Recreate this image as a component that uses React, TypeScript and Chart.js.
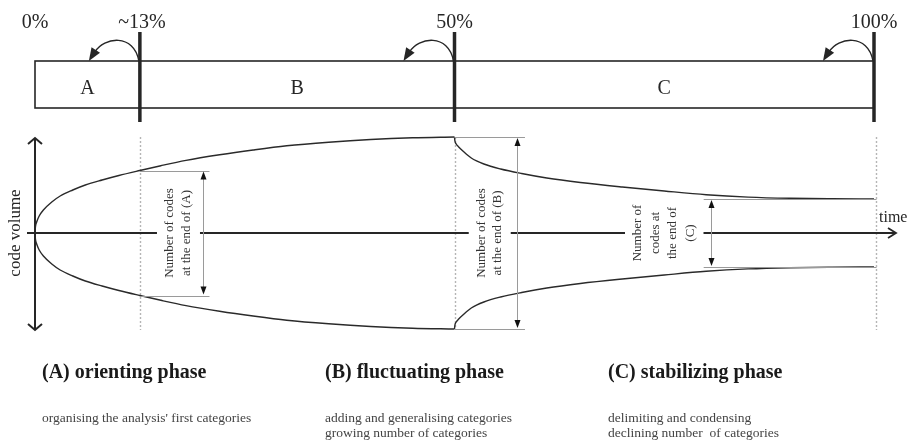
import React, { useEffect, useRef } from 'react';
import { Chart, registerables } from 'chart.js';

Chart.register(...registerables);

// ---------- data ----------
const boundaryPct = [0, 12.5, 50, 100];
const boundaryLabels = ['0%', '~13%', '50%', '100%'];
const segmentLabels = ['A', 'B', 'C'];

// growth of code volume during phases A and B (time in % of analysis)
const growthTime = [0, 0.05, 0.2, 0.5, 1, 2, 3, 4.5, 6, 8, 10, 12.5, 15, 18, 22, 26, 30, 35, 40, 45, 50];
const growthUpper = [0, 6, 11, 17, 23, 31, 37, 43, 48, 53, 57.5, 62.5, 67.3, 72.6, 78.2, 83, 87.2, 90.8, 93.5, 95.2, 96];
const growthLower = [0, -6, -11, -17, -23, -31, -37, -43, -48, -53, -57.5, -62.5, -67.3, -72.6, -78.2, -83, -87.2, -90.8, -93.5, -95.2, -96];

// decline of code volume during phase C
const declineTime = [50, 50.05, 50.2, 50.5, 51, 52, 53.5, 55.5, 58, 61, 65, 70, 75, 80, 85, 90, 95, 100];
const declineUpper = [96, 92, 89, 86, 82, 75, 69, 64, 59.5, 55, 50.5, 46, 42, 38.3, 35.9, 34.7, 34.2, 34];
const declineLower = [-96, -92, -89, -86, -82, -75, -69, -64, -59.5, -55, -50.5, -46, -42, -38.3, -35.9, -34.7, -34.2, -34];

// "number of codes at the end of" measurements
const measureTop = [62.5, 96, 34];
const measureBottom = [-62.5, -96, -34];
const measureLabels = [
  ['Number of codes', 'at the end of (A)'],
  ['Number of codes', 'at the end of (B)'],
  ['Number of', 'codes at', 'the end of', '(C)'],
];

const phaseTitles = ['(A) orienting phase', '(B) fluctuating phase', '(C) stabilizing phase'];
const phaseDescriptions = [
  ["organising the analysis' first categories"],
  ['adding and generalising categories', 'growing number of categories'],
  ['delimiting and condensing', 'declining number  of categories'],
];

const axisLabels = { y: 'code volume', x: 'time' };

// ---------- layout (positions only) ----------
const SERIF = '"Liberation Serif", "Times New Roman", serif';
const INK = '#262626';
const layoutCfg = {
  barTop: 61,
  barBottom: 108,
  dividerTop: 32,
  dividerBottom: 122,
  pctBaseline: 28,
  segBaseline: 94,
  measureLineFrom: [12.5, 50, 79.7],
  measureLineTo: [20.8, 58.4, 100.3],
  measureArrowAt: [20, 57.4, 80.6],
  measureTextAt: [17.1, 54.2, 75.0],
  measureLineHeights: [17, 16, 17.5],
  titleX: [42, 325, 608],
  titleBaseline: 378,
  descBaseline: 422,
  descLineHeight: 15,
};

function arrowHead(ctx: CanvasRenderingContext2D, tx: number, ty: number, dx: number, dy: number, len: number, half: number) {
  const l = Math.hypot(dx, dy);
  const ux = dx / l, uy = dy / l;
  const bx = tx - ux * len, by = ty - uy * len;
  ctx.beginPath();
  ctx.moveTo(tx, ty);
  ctx.lineTo(bx - uy * half, by + ux * half);
  ctx.lineTo(bx + uy * half, by - ux * half);
  ctx.closePath();
  ctx.fill();
}

const diagramPlugin = {
  id: 'diagram',
  beforeDatasetsDraw(chart: any) {
    const { ctx, scales } = chart;
    const x = scales.x, y = scales.y;
    ctx.save();
    ctx.strokeStyle = '#b5b5b5';
    ctx.lineWidth = 1.4;
    ctx.setLineDash([2, 2]);
    for (let i = 1; i < boundaryPct.length; i++) {
      const px = Math.round(x.getPixelForValue(boundaryPct[i])) + (i === 3 ? 2 : 0) + 0.5;
      ctx.beginPath();
      ctx.moveTo(px, y.getPixelForValue(96));
      ctx.lineTo(px, y.getPixelForValue(-97));
      ctx.stroke();
    }
    ctx.restore();
  },
  afterDatasetsDraw(chart: any) {
    const { ctx, scales } = chart;
    const x = scales.x, y = scales.y;
    const L = layoutCfg;
    ctx.save();

    // ---- top bar ----
    const x0 = x.getPixelForValue(boundaryPct[0]);
    const x3 = x.getPixelForValue(boundaryPct[3]);
    ctx.strokeStyle = INK;
    ctx.lineWidth = 1.6;
    ctx.strokeRect(x0, L.barTop, x3 - x0, L.barBottom - L.barTop);

    ctx.fillStyle = INK;
    ctx.font = `20px ${SERIF}`;
    ctx.textAlign = 'center';
    ctx.textBaseline = 'alphabetic';
    for (let i = 0; i < boundaryPct.length; i++) {
      const px = x.getPixelForValue(boundaryPct[i]);
      ctx.fillText(boundaryLabels[i], px + (i === 1 ? 2 : 0), L.pctBaseline);
    }
    for (let i = 0; i < segmentLabels.length; i++) {
      const a = x.getPixelForValue(boundaryPct[i]);
      const b = x.getPixelForValue(boundaryPct[i + 1]);
      ctx.fillText(segmentLabels[i], (a + b) / 2, L.segBaseline);
    }
    // dividers + curved arrows
    for (let i = 1; i < boundaryPct.length; i++) {
      const px = x.getPixelForValue(boundaryPct[i]);
      ctx.lineWidth = 3.5;
      ctx.beginPath();
      ctx.moveTo(px, L.dividerTop);
      ctx.lineTo(px, L.dividerBottom);
      ctx.stroke();

      const ex = px - 51, ey = L.barTop;
      const c2x = px - 36, c2y = 37;
      ctx.lineWidth = 1.4;
      ctx.beginPath();
      ctx.moveTo(px - 1, L.barTop);
      ctx.bezierCurveTo(px - 6, 33, c2x, c2y, ex + 6, ey - 9);
      ctx.stroke();
      arrowHead(ctx, ex, ey, ex - c2x, ey - c2y, 13, 5);
    }

    // ---- code volume axis ----
    const cx = x0;
    const yTop = y.getPixelForValue(95);
    const yBot = y.getPixelForValue(-97);
    ctx.lineWidth = 2;
    ctx.beginPath();
    ctx.moveTo(cx, yTop);
    ctx.lineTo(cx, yBot);
    ctx.moveTo(cx - 7, yTop + 6);
    ctx.lineTo(cx, yTop);
    ctx.lineTo(cx + 7, yTop + 6);
    ctx.moveTo(cx - 7, yBot - 6);
    ctx.lineTo(cx, yBot);
    ctx.lineTo(cx + 7, yBot - 6);
    ctx.stroke();

    ctx.save();
    ctx.translate(16, y.getPixelForValue(0));
    ctx.rotate(-Math.PI / 2);
    ctx.font = `17px ${SERIF}`;
    ctx.textAlign = 'center';
    ctx.textBaseline = 'middle';
    ctx.fillText(axisLabels.y, 0, 0);
    ctx.restore();

    // ---- time axis ----
    const ay = y.getPixelForValue(0);
    const axEnd = x3 + 22;
    ctx.lineWidth = 1.8;
    ctx.beginPath();
    ctx.moveTo(x0 - 8, ay);
    ctx.lineTo(axEnd, ay);
    ctx.moveTo(axEnd - 8, ay - 5);
    ctx.lineTo(axEnd, ay);
    ctx.lineTo(axEnd - 8, ay + 5);
    ctx.stroke();
    ctx.font = `16px ${SERIF}`;
    ctx.textAlign = 'left';
    ctx.textBaseline = 'alphabetic';
    ctx.fillText(axisLabels.x, x3 + 5, ay - 11);

    // ---- measurements ----
    for (let i = 0; i < measureTop.length; i++) {
      const yt = y.getPixelForValue(measureTop[i]);
      const yb = y.getPixelForValue(measureBottom[i]);
      const lx0 = x.getPixelForValue(L.measureLineFrom[i]);
      const lx1 = x.getPixelForValue(L.measureLineTo[i]);
      const ax = Math.round(x.getPixelForValue(L.measureArrowAt[i])) + 0.5;
      ctx.strokeStyle = '#9a9a9a';
      ctx.lineWidth = 1;
      ctx.beginPath();
      ctx.moveTo(lx0, Math.round(yt) + 0.5);
      ctx.lineTo(lx1, Math.round(yt) + 0.5);
      ctx.moveTo(lx0, Math.round(yb) + 0.5);
      ctx.lineTo(lx1, Math.round(yb) + 0.5);
      ctx.moveTo(ax, yt + 6);
      ctx.lineTo(ax, yb - 6);
      ctx.stroke();
      ctx.fillStyle = '#111';
      arrowHead(ctx, ax, yt + 1, 0, -1, 8, 3);
      arrowHead(ctx, ax, yb - 1, 0, 1, 8, 3);

      const lines = measureLabels[i];
      const lh = L.measureLineHeights[i];
      const tx = x.getPixelForValue(L.measureTextAt[i]);
      const half = ((lines.length - 1) * lh) / 2 + 13;
      ctx.fillStyle = '#ffffff';
      ctx.fillRect(tx - half, ay - 3, half * 2, 6);
      ctx.save();
      ctx.translate(tx, ay);
      ctx.rotate(-Math.PI / 2);
      ctx.fillStyle = '#333';
      ctx.font = `13px ${SERIF}`;
      ctx.textAlign = 'center';
      ctx.textBaseline = 'middle';
      lines.forEach((t, k) => {
        ctx.fillText(t, 0, (k - (lines.length - 1) / 2) * lh);
      });
      ctx.restore();
    }

    // ---- phase descriptions ----
    ctx.textAlign = 'left';
    ctx.textBaseline = 'alphabetic';
    for (let i = 0; i < phaseTitles.length; i++) {
      ctx.fillStyle = '#1a1a1a';
      ctx.font = `bold 20px ${SERIF}`;
      ctx.fillText(phaseTitles[i], L.titleX[i], L.titleBaseline);
      ctx.fillStyle = '#444';
      ctx.font = `13.5px ${SERIF}`;
      phaseDescriptions[i].forEach((t, k) => {
        ctx.fillText(t, L.titleX[i], L.descBaseline + k * L.descLineHeight);
      });
    }
    ctx.restore();
  },
};

function pts(xs: number[], ys: number[]) {
  return xs.map((v, i) => ({ x: v, y: ys[i] }));
}

export default function App() {
  const ref = useRef<HTMLCanvasElement | null>(null);
  useEffect(() => {
    if (!ref.current) return;
    const lineStyle = {
      borderColor: '#2a2a2a',
      borderWidth: 1.4,
      pointRadius: 0,
      fill: false,
      cubicInterpolationMode: 'monotone' as const,
    };
    const chart = new Chart(ref.current, {
      type: 'line',
      data: {
        datasets: [
          { label: 'growth upper', data: pts(growthTime, growthUpper), ...lineStyle },
          { label: 'growth lower', data: pts(growthTime, growthLower), ...lineStyle },
          { label: 'decline upper', data: pts(declineTime, declineUpper), ...lineStyle },
          { label: 'decline lower', data: pts(declineTime, declineLower), ...lineStyle },
        ],
      },
      options: {
        responsive: false,
        animation: false,
        events: [],
        layout: { padding: { left: 35, right: 39, top: 133, bottom: 111 } },
        plugins: {
          legend: { display: false },
          tooltip: { enabled: false },
          title: { display: false },
        },
        scales: {
          x: { type: 'linear', min: 0, max: 100, display: false },
          y: { type: 'linear', min: -100, max: 100, display: false },
        },
      },
      plugins: [diagramPlugin],
    });
    return () => chart.destroy();
  }, []);
  return (
    <div style={{ position: 'absolute', left: 0, top: 0, width: 913, height: 444, background: '#fff' }}>
      <canvas ref={ref} width={913} height={444} style={{ display: 'block' }} />
    </div>
  );
}
